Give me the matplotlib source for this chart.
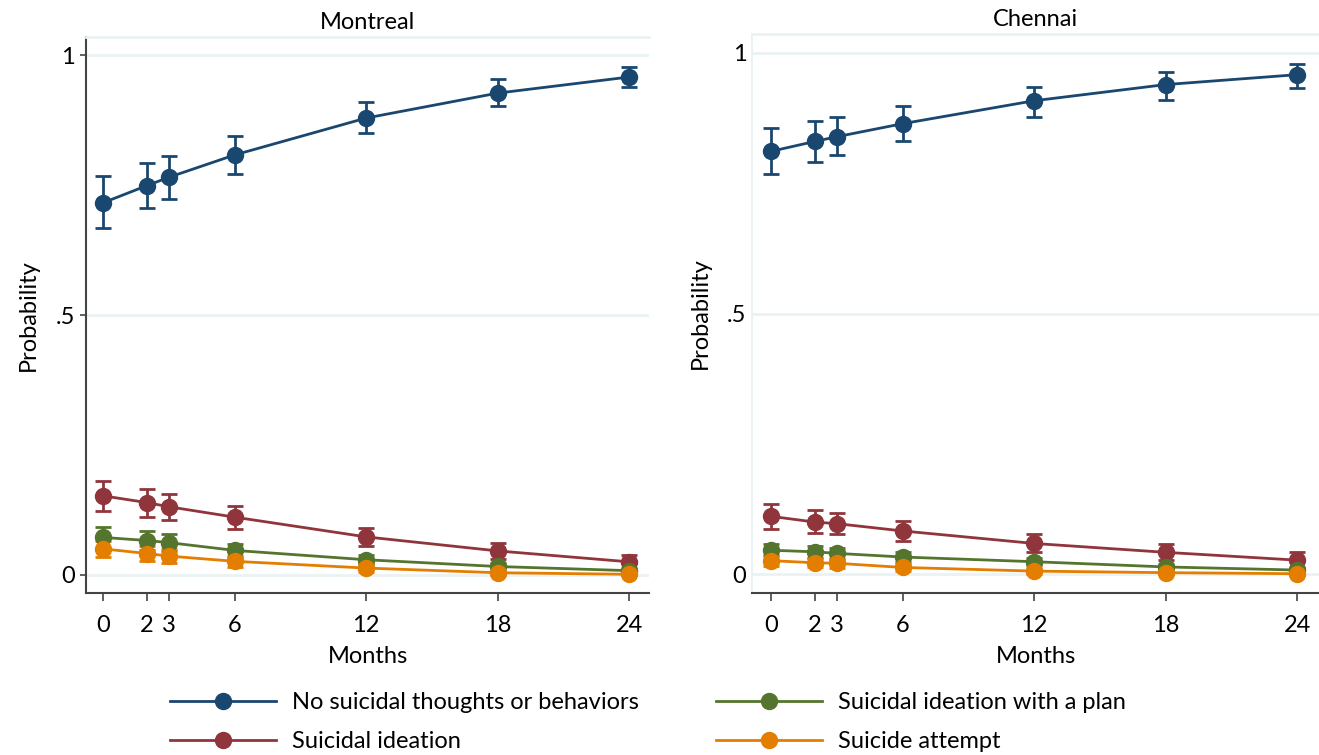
import numpy as np
import matplotlib.pyplot as plt
from matplotlib.lines import Line2D

plt.rcParams['font.family'] = ['Lato', 'DejaVu Sans']

months = [0, 2, 3, 6, 12, 18, 24]
series = ["No suicidal thoughts or behaviors", "Suicidal ideation",
          "Suicidal ideation with a plan", "Suicide attempt"]
colors = ["#1a476f", "#90353b", "#55752f", "#e37e00"]

# Montreal: estimate, lower CI, upper CI
mtl_none = [0.716, 0.749, 0.765, 0.808, 0.879, 0.927, 0.958]
mtl_none_lo = [0.667, 0.705, 0.723, 0.771, 0.850, 0.902, 0.938]
mtl_none_hi = [0.767, 0.793, 0.806, 0.845, 0.909, 0.954, 0.977]
mtl_idea = [0.152, 0.139, 0.131, 0.111, 0.073, 0.046, 0.025]
mtl_idea_lo = [0.123, 0.112, 0.106, 0.088, 0.056, 0.031, 0.014]
mtl_idea_hi = [0.181, 0.165, 0.156, 0.133, 0.090, 0.061, 0.038]
mtl_plan = [0.072, 0.066, 0.062, 0.047, 0.029, 0.016, 0.008]
mtl_plan_lo = [0.052, 0.048, 0.045, 0.034, 0.020, 0.010, 0.004]
mtl_plan_hi = [0.092, 0.084, 0.079, 0.060, 0.038, 0.022, 0.012]
mtl_att = [0.050, 0.041, 0.036, 0.026, 0.013, 0.004, 0.001]
mtl_att_lo = [0.034, 0.026, 0.022, 0.015, 0.006, 0.000, 0.000]
mtl_att_hi = [0.066, 0.056, 0.050, 0.037, 0.020, 0.008, 0.003]

# Chennai
che_none = [0.811, 0.830, 0.839, 0.864, 0.908, 0.939, 0.958]
che_none_lo = [0.767, 0.790, 0.803, 0.831, 0.877, 0.910, 0.933]
che_none_hi = [0.855, 0.869, 0.877, 0.898, 0.935, 0.963, 0.979]
che_idea = [0.111, 0.100, 0.097, 0.083, 0.059, 0.042, 0.027]
che_idea_lo = [0.086, 0.079, 0.078, 0.064, 0.042, 0.027, 0.013]
che_idea_hi = [0.134, 0.123, 0.117, 0.102, 0.077, 0.058, 0.043]
che_plan = [0.046, 0.043, 0.040, 0.033, 0.024, 0.014, 0.008]
che_plan_lo = [0.034, 0.032, 0.030, 0.024, 0.017, 0.009, 0.004]
che_plan_hi = [0.058, 0.054, 0.050, 0.042, 0.031, 0.019, 0.012]
che_att = [0.026, 0.022, 0.021, 0.013, 0.006, 0.003, 0.001]
che_att_lo = [0.016, 0.013, 0.012, 0.006, 0.001, 0.000, 0.000]
che_att_hi = [0.036, 0.031, 0.030, 0.020, 0.011, 0.006, 0.003]

ytick_vals = [0, 0.5, 1]
ytick_labels = ["0", ".5", "1"]

grid_c = "#eaf2f3"
fs = 17

fig = plt.figure(figsize=(13.19, 7.55), dpi=100)
W, H = 1319, 755
ax1 = fig.add_axes([86/W, 1-593/H, (649-86)/W, (593-37)/H])
ax2 = fig.add_axes([752/W, 1-593/H, (1319-752)/W, (593-34)/H])

panels = [
    (ax1, "Montreal", [(mtl_none, mtl_none_lo, mtl_none_hi), (mtl_idea, mtl_idea_lo, mtl_idea_hi),
                       (mtl_plan, mtl_plan_lo, mtl_plan_hi), (mtl_att, mtl_att_lo, mtl_att_hi)],
     (-0.78, 24.91), (-0.035, 1.035)),
    (ax2, "Chennai", [(che_none, che_none_lo, che_none_hi), (che_idea, che_idea_lo, che_idea_hi),
                      (che_plan, che_plan_lo, che_plan_hi), (che_att, che_att_lo, che_att_hi)],
     (-0.87, 25.0), (-0.036, 1.036)),
]

for i, (ax, title, data, xl, yl) in enumerate(panels):
    for (est, lo, hi), c in zip(data, colors):
        est = np.array(est); lo = np.array(lo); hi = np.array(hi)
        ax.errorbar(months, est, yerr=[est - lo, hi - est], color=c, lw=2,
                    marker='o', ms=11.5, capsize=6, capthick=2, elinewidth=2)
    ax.set_xlim(*xl); ax.set_ylim(*yl)
    ax.set_xticks(months)
    ax.set_yticks(ytick_vals)
    ax.set_yticklabels(ytick_labels)
    ax.grid(axis='y', color=grid_c, lw=2)
    ax.set_axisbelow(True)
    ax.tick_params(axis='x', length=6, width=1.2, color="#444444", labelsize=fs, pad=10)
    ax.tick_params(axis='y', length=4 if i == 0 else 0, width=1.2, color="#444444", labelsize=fs, pad=4)
    ax.set_xlabel("Months", fontsize=fs, labelpad=7)
    ax.set_ylabel("Probability", fontsize=fs, labelpad=12)
    ax.set_title(title, fontsize=fs, pad=6)
    ax.spines['right'].set_visible(False)
    ax.spines['top'].set_color(grid_c); ax.spines['top'].set_linewidth(2)
    ax.spines['bottom'].set_color("#444444"); ax.spines['bottom'].set_linewidth(1.5)
    if i == 0:
        ax.spines['left'].set_color("#444444"); ax.spines['left'].set_linewidth(1.5)
    else:
        ax.spines['left'].set_color(grid_c); ax.spines['left'].set_linewidth(1.5)

handles = [Line2D([], [], color=c, lw=2, marker='o', ms=11.5) for c in colors]
fig.legend(handles, series, ncol=2, loc='upper left', bbox_to_anchor=(170/W, 1-692/H),
           frameon=False, fontsize=fs, handlelength=4.5, handletextpad=0.68,
           columnspacing=3.25, labelspacing=0.77, borderpad=0, borderaxespad=0)

fig.savefig("out.png", dpi=100)
